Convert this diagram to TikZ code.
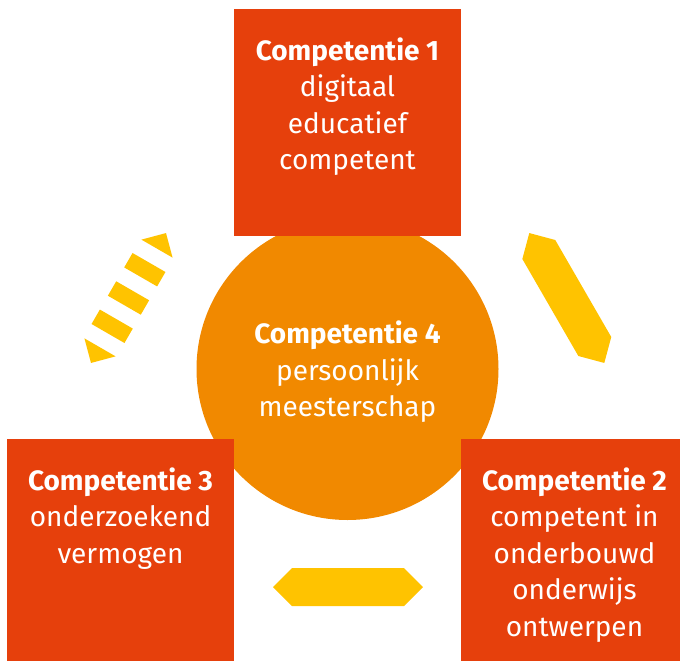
\documentclass[tikz,border=0pt]{standalone}
\usepackage{fontspec}
\setmainfont{Fira Sans}
\usetikzlibrary{positioning}
\definecolor{compred}{HTML}{E6400C}
\definecolor{comporange}{HTML}{F18900}
\definecolor{compyellow}{HTML}{FFC300}

\begin{document}
\begin{tikzpicture}[x=1pt,y=-1pt,
box/.style={fill=compred,minimum size=227pt,inner sep=0pt},
disc/.style={circle,fill=comporange,minimum size=302pt,inner sep=0pt},
txt/.style={text=white,align=center,inner sep=0pt,font=\fontsize{28}{36.5}\selectfont},
yellowbar/.style={fill=compyellow}]
\path[use as bounding box] (0,0) rectangle (680,661);
\clip (0,0) rectangle (680,661);
% centre and the three squares
\node[disc] (c4) at (347.5,369) {};
\node[box] (c1) at (347.5,122.5) {};
\node[box] (c3) at (120.5,552.5) {};
\node[box] (c2) at (574.5,552.5) {};
\node[txt] (t4) at ([yshift=-3pt]c4.center) {\textbf{Competentie 4}\\persoonlijk\\meesterschap};
\node[txt,below=28.5pt of c1.north] (t1) {\textbf{Competentie 1}\\digitaal\\educatief\\competent};
\node[txt,below=28.5pt of c3.north] (t3) {\textbf{Competentie 3}\\onderzoekend\\vermogen};
\node[txt,below=28.5pt of c2.north] (t2) {\textbf{Competentie 2}\\competent in\\onderbouwd\\onderwijs\\ontwerpen};
% yellow bars
\begin{scope}[shift={(348,587)}]
\fill[yellowbar] (-75,0) -- (-56,-19) -- (56,-19) -- (75,0) -- (56,19) -- (-56,19) -- cycle;
\end{scope}
\begin{scope}[shift={(566.8,298)},rotate=-60]
\fill[yellowbar] (-75,0) -- (-56,-19) -- (56,-19) -- (75,0) -- (56,19) -- (-56,19) -- cycle;
\end{scope}
\begin{scope}[shift={(128.5,298)},rotate=60]
\fill[yellowbar] (-75,0) -- (-57,-18) -- (-57,18) -- cycle;
\fill[yellowbar] (75,0) -- (57,-18) -- (57,18) -- cycle;
\foreach \s in {-41,-8.33,24.33}
  \fill[yellowbar] (\s,-19) rectangle ++(16.67,38);
\end{scope}
\end{tikzpicture}
\end{document}
